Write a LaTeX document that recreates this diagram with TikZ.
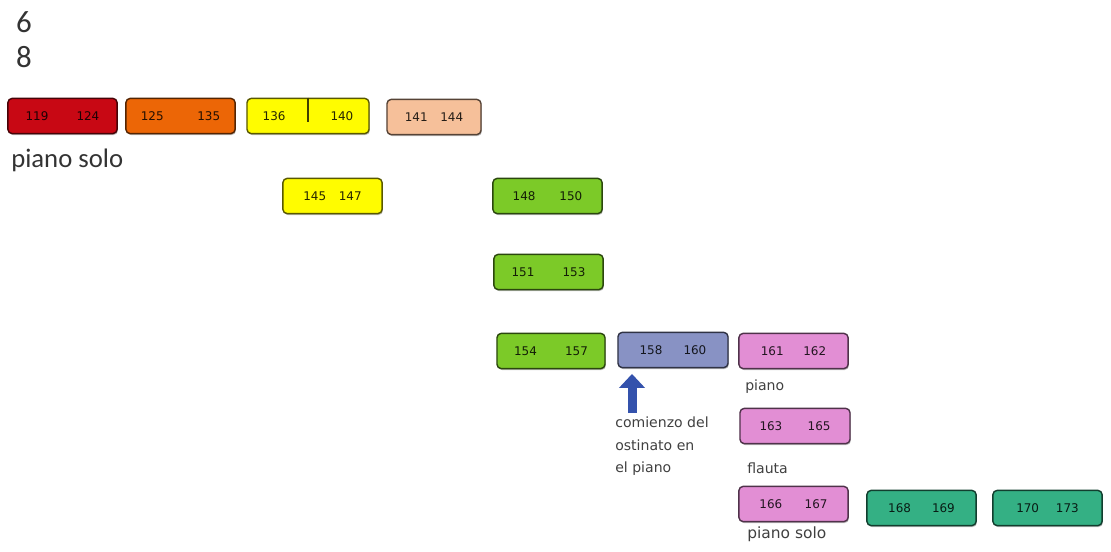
\documentclass[tikz,border=0pt]{standalone}
\usepackage{fontspec}
\setmainfont{Carlito}
\newfontfamily\notefont{DejaVu Sans}
\usepackage{tikz}
\usetikzlibrary{arrows.meta,shapes,positioning,shadows}
\usepackage{xcolor}
\definecolor{msred}{RGB}{200,8,20}
\definecolor{msorange}{RGB}{236,102,6}
\definecolor{msyellow}{RGB}{255,252,0}
\definecolor{mspeach}{RGB}{246,192,154}
\definecolor{msgreen}{RGB}{124,202,40}
\definecolor{msblue}{RGB}{136,146,196}
\definecolor{mspink}{RGB}{226,142,212}
\definecolor{msteal}{RGB}{52,176,132}
\definecolor{msarrow}{RGB}{52,82,172}
\tikzset{bar/.style={rectangle, rounded corners=3pt, minimum width=2.73cm, minimum height=0.88cm, inner sep=0pt, draw=#1!35!black, fill=#1, line width=1pt, text=#1!15!black, font=\notefont\fontsize{8.5}{9}\selectfont, drop shadow={shadow xshift=0.6pt, shadow yshift=-1pt, opacity=0.5}}}
\tikzstyle{label} = [inner sep=0pt, text=black!75, font=\notefont\fontsize{10}{16}\selectfont]
\tikzstyle{uparrow} = [line width=6.4pt, -{Triangle[width=18pt,length=10pt]}, color=msarrow]

\begin{document}
\begin{tikzpicture}[x=0.025cm, y=-0.025cm]
\useasboundingbox (0,0) rectangle (1111,552);

\node (six) [inner sep=0pt, text=black!80, font=\fontsize{22}{22}\selectfont] at (24,22) {6};
\node (eight) [inner sep=0pt, text=black!80, font=\fontsize{22}{22}\selectfont] at (24,57) {8};

\node (b119) [bar=msred] at (62.5,116) {119\hspace{20pt}124};
\node (b125) [bar=msorange] at (180.5,116) {125\hspace{24pt}135};
\node (b136) [bar=msyellow, minimum width=3.05cm] at (308,116) {136\hspace{32pt}140};
\node (b141) [bar=mspeach, minimum width=2.35cm] at (434,117) {141\hspace{9pt}144};
\draw[line width=1pt, color=msyellow!25!black] (b136.north) -- ++(0,24);

\node (solo) [anchor=base west, inner sep=0pt, text=black!80, font=\fontsize{19}{19}\selectfont] at (11,167) {piano solo};

\node (b145) [bar=msyellow, minimum width=2.48cm] at (332.5,196) {145\hspace{9pt}147};
\node (b148) [bar=msgreen] at (547.5,196) {148\hspace{17pt}150};
\node (b151) [bar=msgreen] at (548.5,272) {151\hspace{20pt}153};
\node (b154) [bar=msgreen, minimum width=2.7cm] at (551,351) {154\hspace{20pt}157};
\node (b158) [bar=msblue, minimum width=2.75cm] at (673,350) {158\hspace{15pt}160};
\node (b161) [bar=mspink] at (793.5,351) {161\hspace{14pt}162};
\node (b163) [bar=mspink, minimum width=2.75cm] at (795,426) {163\hspace{18pt}165};
\node (b166) [bar=mspink] at (793.5,504) {166\hspace{16pt}167};
\node (b168) [bar=msteal] at (921.5,508) {168\hspace{15pt}169};
\node (b170) [bar=msteal] at (1047.5,508) {170\hspace{12pt}173};

\node (lpiano) [label, anchor=base west] at (745,390) {piano};
\node (lflauta) [label, anchor=base west] at (747,473) {flauta};
\node (lsolo) [label, anchor=base west, font=\notefont\fontsize{11}{12}\selectfont] at (747,538) {piano solo};
\node (note) [label, anchor=north west, align=left] at (615,417) {comienzo del\\ostinato en\\el piano};

\coordinate (tail) at (632,413);
\draw[uparrow, shorten >=4pt] (tail) -- (tail |- b158.south);
\end{tikzpicture}
\end{document}
